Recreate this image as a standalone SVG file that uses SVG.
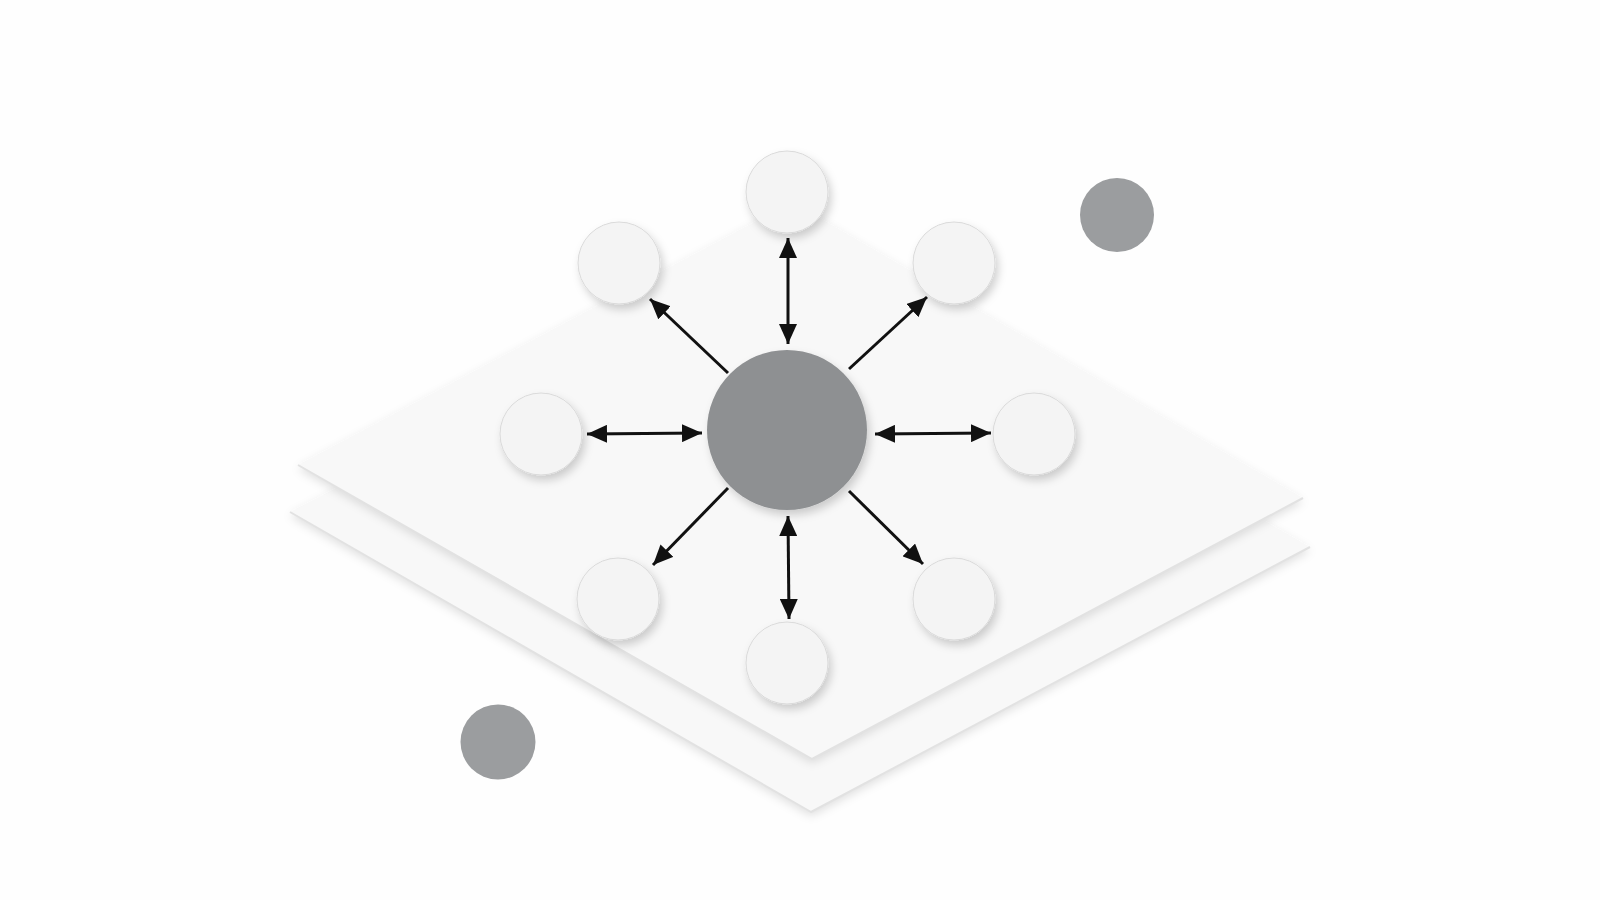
<svg xmlns="http://www.w3.org/2000/svg" width="1600" height="900" viewBox="0 0 1600 900">
  <style>
    .plate { fill: #f8f8f8; }
    .plate-edge { fill: none; stroke: #e2e2e2; stroke-width: 2; stroke-linejoin: round; }
    .node { fill: #f4f4f4; stroke: #dadada; stroke-width: 1; }
    .hub { fill: #8e9092; }
    .dot { fill: #9b9d9f; }
    .conn { stroke: #111; stroke-width: 3; fill: none; }
  </style>
  <defs>
    <filter id="shadow" x="-30%" y="-30%" width="160%" height="160%">
      <feDropShadow dx="3" dy="5" stdDeviation="4" flood-color="#000" flood-opacity="0.18"/>
    </filter>
    <filter id="plateShadow" x="-10%" y="-10%" width="120%" height="130%">
      <feDropShadow dx="0" dy="4" stdDeviation="5" flood-color="#000" flood-opacity="0.12"/>
    </filter>
    <marker id="arrow" viewBox="0 0 20 18" refX="20" refY="9" markerWidth="20" markerHeight="18" markerUnits="userSpaceOnUse" orient="auto-start-reverse">
      <path d="M0,0 L20,9 L0,18 z" fill="#111"/>
    </marker>
  </defs>
  <rect width="1600" height="900" fill="#fefefe"/>

  <g id="plate-bottom">
    <polygon class="plate" filter="url(#plateShadow)" points="795,250 1310,547 811,812 290,512"/>
    <polyline class="plate-edge" points="290,512 811,812 1310,547"/>
  </g>
  <g id="plate-top">
    <polygon class="plate" filter="url(#plateShadow)" points="792,202 1303,498 812,759 298,465"/>
    <polyline class="plate-edge" points="298,465 812,759 1303,498"/>
  </g>

  <g id="connectors">
    <line class="conn" x1="788" y1="238" x2="788" y2="344" marker-start="url(#arrow)" marker-end="url(#arrow)"/>
    <line class="conn" x1="788" y1="516" x2="789" y2="619" marker-start="url(#arrow)" marker-end="url(#arrow)"/>
    <line class="conn" x1="587" y1="434" x2="702" y2="433" marker-start="url(#arrow)" marker-end="url(#arrow)"/>
    <line class="conn" x1="875" y1="434" x2="991" y2="433" marker-start="url(#arrow)" marker-end="url(#arrow)"/>
    <line class="conn" x1="728" y1="373" x2="650" y2="299" marker-end="url(#arrow)"/>
    <line class="conn" x1="849" y1="369" x2="927" y2="297" marker-end="url(#arrow)"/>
    <line class="conn" x1="728" y1="488" x2="653" y2="565" marker-end="url(#arrow)"/>
    <line class="conn" x1="849" y1="491" x2="923" y2="564" marker-end="url(#arrow)"/>
  </g>

  <g id="hub"><circle class="hub" filter="url(#shadow)" cx="787" cy="430" r="80"/></g>
  <g id="node-top"><circle class="node" filter="url(#shadow)" cx="787" cy="192" r="41"/></g>
  <g id="node-top-left"><circle class="node" filter="url(#shadow)" cx="619" cy="263" r="41"/></g>
  <g id="node-top-right"><circle class="node" filter="url(#shadow)" cx="954" cy="263" r="41"/></g>
  <g id="node-left"><circle class="node" filter="url(#shadow)" cx="541" cy="434" r="41"/></g>
  <g id="node-right"><circle class="node" filter="url(#shadow)" cx="1034" cy="434" r="41"/></g>
  <g id="node-bottom-left"><circle class="node" filter="url(#shadow)" cx="618" cy="599" r="41"/></g>
  <g id="node-bottom-right"><circle class="node" filter="url(#shadow)" cx="954" cy="599" r="41"/></g>
  <g id="node-bottom"><circle class="node" filter="url(#shadow)" cx="787" cy="663" r="41"/></g>

  <g id="dot-top-right"><circle class="dot" cx="1117" cy="215" r="37"/></g>
  <g id="dot-bottom-left"><circle class="dot" cx="498" cy="742" r="37.5"/></g>
</svg>
